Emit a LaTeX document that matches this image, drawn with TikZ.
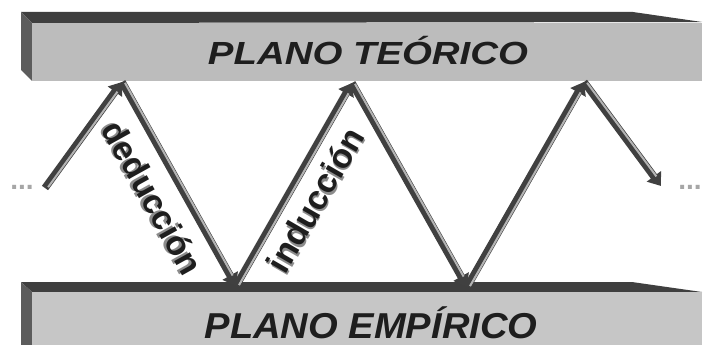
\documentclass[tikz,border=0pt]{standalone}
\usepackage{fontspec}
\setmainfont{Liberation Sans}
\usetikzlibrary{arrows.meta}

\definecolor{slabtop}{HTML}{3F3F3F}
\definecolor{slabside}{HTML}{5C5C5C}
\definecolor{slabfrontT}{HTML}{BCBCBC}
\definecolor{slabfrontB}{HTML}{C6C6C6}
\definecolor{bardark}{HTML}{404040}
\definecolor{barlight}{HTML}{B4B4B4}
\definecolor{txtdark}{HTML}{1E1E1E}
\definecolor{txtshadow}{HTML}{8C8C8C}

% texto con sombra gris
\newcommand{\shadowtxt}[1]{\rlap{\kern-2pt\raisebox{-2pt}{\textcolor{txtshadow}{#1}}}#1}

\tikzset{
  bar/.style={draw=bardark, line width=7.5pt, -{Triangle[width=17pt,length=12pt]}},
  barhi/.style={draw=barlight, line width=2pt, shorten >=12pt, shorten <=1pt,
    transform canvas={xshift=2.5pt}},
  plane/.style={text=txtdark, inner sep=0pt},
  lbl/.style={font=\fontsize{34}{34}\selectfont\bfseries, text=txtdark, inner sep=0pt},
  dots/.style={font=\fontsize{28}{28}\selectfont\bfseries, text=gray!70, inner sep=0pt}
}

\begin{document}
\begin{tikzpicture}[x=1pt, y=-1pt]
  \useasboundingbox (0,0) rectangle (705,345);

  % plano superior
  \fill[slabtop] (21,12) -- (633,12) -- (702,22) -- (32,23) -- cycle;
  \fill[slabside] (21,12) -- (32,23) -- (32,81) -- (21,70) -- cycle;
  \fill[slabfrontT] (32,23) rectangle (702,81);
  \node[plane, xscale=1.2, font=\fontsize{32}{32}\selectfont\bfseries\itshape]
    (teo) at (368,51) {PLANO TEÓRICO};

  % plano inferior
  \fill[slabtop] (21,282) -- (632,282) -- (702,292) -- (32,292) -- cycle;
  \fill[slabside] (21,282) -- (32,292) -- (32,345) -- (21,345) -- cycle;
  \fill[slabfrontB] (32,292) rectangle (702,345);
  \node[plane, xscale=1.06, font=\fontsize{36}{36}\selectfont\bfseries\itshape]
    (emp) at (371,323) {PLANO EMPÍRICO};

  % puntos del zigzag
  \coordinate (s0) at (45,188);
  \coordinate (t1) at (122,82);
  \coordinate (b1) at (236,286);
  \coordinate (t2) at (352,83);
  \coordinate (b2) at (467,287);
  \coordinate (t3) at (584,82);
  \coordinate (e0) at (661,186);

  % flechas
  \foreach \a/\b in {s0/t1, t1/b1, b1/t2, t2/b2, b2/t3, t3/e0} {
    \draw[bar] (\a) -- (\b);
    \draw[barhi] (\a) -- (\b);
  }

  % etiquetas
  \node[lbl, rotate=-61] (ded) at (152,198) {\shadowtxt{deducción}};
  \node[lbl, rotate=60] (ind) at (316,200) {\shadowtxt{inducción}};

  % puntos suspensivos
  \node[dots] (dotsL) at (22,187) {...};
  \node[dots] (dotsR) at (690,187) {...};
\end{tikzpicture}
\end{document}
